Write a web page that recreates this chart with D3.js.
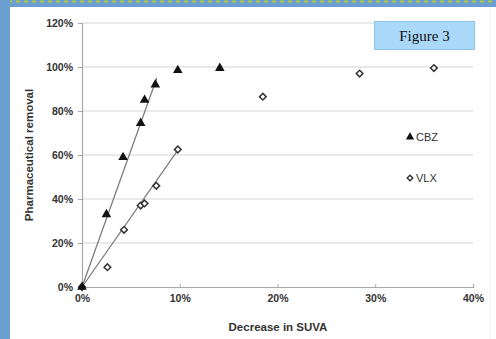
<!DOCTYPE html>
<html><head><meta charset="utf-8">
<script src="https://cdn.jsdelivr.net/npm/d3@7"></script>
<style>html,body{margin:0;padding:0;background:#fff;}svg{display:block;}</style>
</head><body>
<svg id="c" width="496" height="339"></svg>
<script>
const xTicks = [0, 0.1, 0.2, 0.3, 0.4];
const yTicks = [0, 0.2, 0.4, 0.6, 0.8, 1.0, 1.2];
const cbzX = [0, 0.025, 0.042, 0.060, 0.064, 0.075, 0.098, 0.141];
const cbzY = [0, 0.33, 0.59, 0.745, 0.85, 0.92, 0.985, 0.995];
const vlxX = [0, 0.026, 0.043, 0.060, 0.064, 0.076, 0.098, 0.185, 0.284, 0.360];
const vlxY = [0, 0.09, 0.26, 0.37, 0.38, 0.46, 0.625, 0.865, 0.97, 0.995];
const cbzFitX = [0, 0.0765];
const cbzFitY = [0, 0.95];
const vlxFitX = [0, 0.10];
const vlxFitY = [0, 0.635];
const seriesNames = ["CBZ", "VLX"];

const svg = d3.select("#c");
svg.append("rect").attr("x",0).attr("y",0).attr("width",496).attr("height",339).attr("fill","#fff");
svg.append("rect").attr("x",0).attr("y",0).attr("width",496).attr("height",7).attr("fill","#6a9fcf");
svg.append("line").attr("x1",0).attr("x2",496).attr("y1",1.5).attr("y2",1.5)
  .attr("stroke","#b5c83a").attr("stroke-width",2).attr("stroke-dasharray","4,4");
svg.append("rect").attr("x",0).attr("y",0).attr("width",10).attr("height",339).attr("fill","#6a9fcf");
svg.append("line").attr("x1",490).attr("x2",490).attr("y1",7).attr("y2",339).attr("stroke","#eef4f8").attr("stroke-width",1);

const x = d3.scaleLinear().domain([0,0.4]).range([82,473]);
const y = d3.scaleLinear().domain([0,1.2]).range([287,23]);

svg.append("g").selectAll("line").data(yTicks.filter(d=>d>0)).join("line")
  .attr("x1",x(0)).attr("x2",x(0.4)).attr("y1",d=>y(d)).attr("y2",d=>y(d))
  .attr("stroke","#d4d4d4").attr("stroke-width",1.2);

const fmt = d => Math.round(d*100)+"%";
const gy = svg.append("g").attr("transform",`translate(${x(0)},0)`)
  .call(d3.axisLeft(y).tickValues(yTicks).tickFormat(fmt).tickSize(4).tickPadding(5));
const gx = svg.append("g").attr("transform",`translate(0,${y(0)})`)
  .call(d3.axisBottom(x).tickValues(xTicks).tickFormat(fmt).tickSize(-3).tickPadding(8));
[gx,gy].forEach(g=>{
  g.select(".domain").attr("stroke","#a8a8a8").attr("stroke-width",1.2);
  g.selectAll(".tick line").attr("stroke","#a8a8a8");
  g.selectAll("text").attr("font-family","Liberation Sans, Arial, sans-serif").attr("font-size",10.5)
    .attr("font-weight","bold").attr("fill","#333");
});

const line = d3.line().x(d=>x(d[0])).y(d=>y(d[1]));
svg.append("path").attr("d",line(d3.zip(cbzFitX,cbzFitY))).attr("stroke","#777").attr("stroke-width",1.2).attr("fill","none");
svg.append("path").attr("d",line(d3.zip(vlxFitX,vlxFitY))).attr("stroke","#777").attr("stroke-width",1.2).attr("fill","none");

const tri = d3.symbol().type(d3.symbolTriangle).size(40);
const dia = d3.symbol().type(d3.symbolSquare).size(22);
svg.append("g").selectAll("path").data(d3.zip(vlxX,vlxY)).join("path")
  .attr("d",dia).attr("transform",d=>`translate(${x(d[0])},${y(d[1])}) rotate(45)`)
  .attr("fill","#fff").attr("stroke","#333").attr("stroke-width",1.5);
svg.append("g").selectAll("path").data(d3.zip(cbzX,cbzY)).join("path")
  .attr("d",tri).attr("transform",d=>`translate(${x(d[0])},${y(d[1])})`)
  .attr("fill","#111");

const lg = svg.append("g");
lg.append("path").attr("d",d3.symbol().type(d3.symbolTriangle).size(30)).attr("transform","translate(410,137)").attr("fill","#111");
lg.append("path").attr("d",d3.symbol().type(d3.symbolSquare).size(16)).attr("transform","translate(410,178) rotate(45)").attr("fill","#fff").attr("stroke","#333").attr("stroke-width",1.4);
lg.selectAll("text").data(seriesNames).join("text")
  .attr("x",416).attr("y",(d,i)=>i?182:141).text(d=>d)
  .attr("font-family","Liberation Sans, Arial, sans-serif").attr("font-size",11).attr("fill","#333");

svg.append("text").attr("x",278).attr("y",331).attr("text-anchor","middle").text("Decrease in SUVA")
  .attr("font-family","Liberation Sans, Arial, sans-serif").attr("font-size",11.5).attr("font-weight","bold").attr("fill","#333");
svg.append("text").attr("transform","translate(33,155) rotate(-90)").attr("text-anchor","middle").text("Pharmaceutical removal")
  .attr("font-family","Liberation Sans, Arial, sans-serif").attr("font-size",11.5).attr("font-weight","bold").attr("fill","#333");

svg.append("rect").attr("x",374.5).attr("y",21.5).attr("width",100).attr("height",28).attr("fill","#a9d8f8").attr("stroke","#8ac4ec");
svg.append("text").attr("x",424.5).attr("y",40.5).attr("text-anchor","middle").text("Figure 3")
  .attr("font-family","Liberation Serif, serif").attr("font-size",15).attr("fill","#111");
</script>
</body></html>
